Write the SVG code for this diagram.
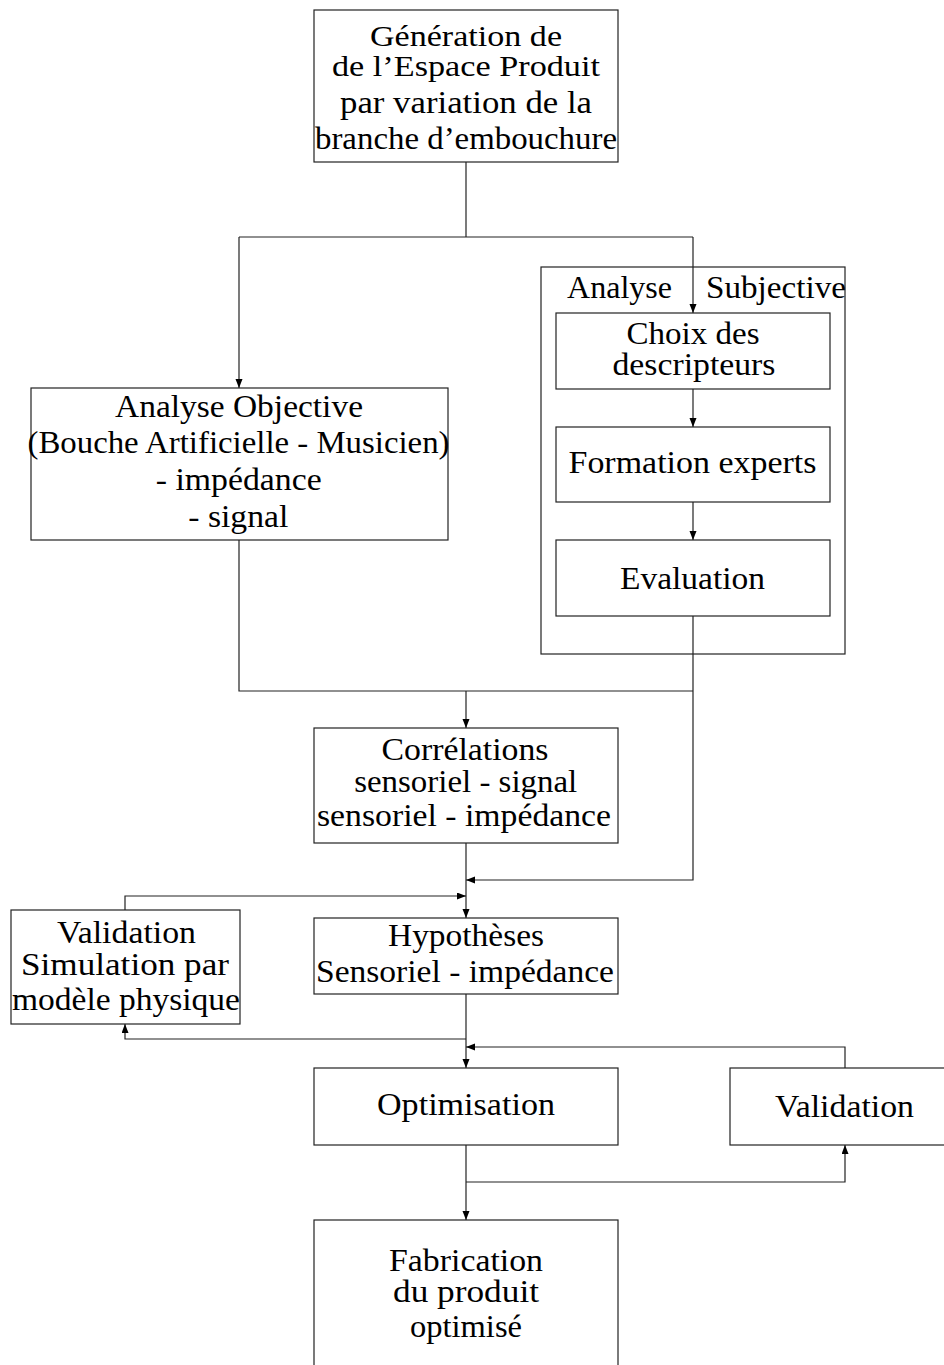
<svg xmlns="http://www.w3.org/2000/svg" width="944" height="1365" viewBox="0 0 944 1365">
<style>
.box{fill:#fff;stroke:#222;stroke-width:1.2}
.frame{fill:none;stroke:#222;stroke-width:1.2}
.t{font-family:'Liberation Serif','Times New Roman',Times,serif;font-size:30.5px;fill:#000;text-anchor:middle}
.tg{font-family:'Liberation Serif','Times New Roman',Times,serif;font-size:29px;fill:#000;text-anchor:middle}
.ts{font-family:'Liberation Serif','Times New Roman',Times,serif;font-size:30.5px;fill:#000;text-anchor:start}
.c{fill:none;stroke:#222;stroke-width:1.2}
</style>
<defs>
<marker id="ah" markerUnits="userSpaceOnUse" markerWidth="10" markerHeight="8" refX="9" refY="3.5" orient="auto">
<path d="M0,0 L9,3.5 L0,7 z" fill="#000"/>
</marker>
</defs>
<rect width="944" height="1365" fill="#fff"/>

<g id="connectors">
<path class="c" d="M466,162 V237"/>
<path class="c" d="M239,237 H693"/>
<path class="c" d="M239,237 V388" marker-end="url(#ah)"/>
<path class="c" d="M693,237 V313" marker-end="url(#ah)"/>
<path class="c" d="M693,389 V427" marker-end="url(#ah)"/>
<path class="c" d="M693,502 V540" marker-end="url(#ah)"/>
<path class="c" d="M239,540 V691 H693"/>
<path class="c" d="M466,691 V728" marker-end="url(#ah)"/>
<path class="c" d="M693,616 V880 H466" marker-end="url(#ah)"/>
<path class="c" d="M466,843 V918" marker-end="url(#ah)"/>
<path class="c" d="M125,910 V896 H466" marker-end="url(#ah)"/>
<path class="c" d="M466,994 V1068" marker-end="url(#ah)"/>
<path class="c" d="M466,1039 H125 V1024" marker-end="url(#ah)"/>
<path class="c" d="M845,1068 V1047 H466" marker-end="url(#ah)"/>
<path class="c" d="M466,1145 V1220" marker-end="url(#ah)"/>
<path class="c" d="M466,1182 H845 V1145" marker-end="url(#ah)"/>
</g>

<g id="generation">
<rect class="box" x="314" y="10" width="304" height="152"/>
<text class="tg" x="466" y="46" textLength="192" lengthAdjust="spacingAndGlyphs">Génération de</text>
<text class="tg" x="466" y="76" textLength="268" lengthAdjust="spacingAndGlyphs">de l’Espace Produit</text>
<text class="t" x="466" y="113" textLength="252" lengthAdjust="spacingAndGlyphs">par variation de la</text>
<text class="t" x="466" y="149" textLength="302" lengthAdjust="spacingAndGlyphs">branche d’embouchure</text>
</g>

<g id="analyse-subjective">
<rect class="frame" x="541" y="267" width="304" height="387"/>
<text class="ts" x="567" y="298" textLength="105" lengthAdjust="spacingAndGlyphs">Analyse</text>
<text class="ts" x="706" y="298" textLength="140" lengthAdjust="spacingAndGlyphs">Subjective</text>
</g>

<g id="choix">
<rect class="box" x="556" y="313" width="274" height="76"/>
<text class="t" x="693" y="344" textLength="133" lengthAdjust="spacingAndGlyphs">Choix des</text>
<text class="t" x="694" y="375" textLength="163" lengthAdjust="spacingAndGlyphs">descripteurs</text>
</g>

<g id="formation">
<rect class="box" x="556" y="427" width="274" height="75"/>
<text class="t" x="692.5" y="473" textLength="248" lengthAdjust="spacingAndGlyphs">Formation experts</text>
</g>

<g id="evaluation">
<rect class="box" x="556" y="540" width="274" height="76"/>
<text class="t" x="692.5" y="589" textLength="145" lengthAdjust="spacingAndGlyphs">Evaluation</text>
</g>

<g id="analyse-objective">
<rect class="box" x="31" y="388" width="417" height="152"/>
<text class="t" x="239" y="417" textLength="248" lengthAdjust="spacingAndGlyphs">Analyse Objective</text>
<text class="t" x="238.5" y="453" textLength="422" lengthAdjust="spacingAndGlyphs">(Bouche Artificielle - Musicien)</text>
<text class="t" x="238.7" y="490" textLength="166" lengthAdjust="spacingAndGlyphs">- impédance</text>
<text class="t" x="238.3" y="527" textLength="100" lengthAdjust="spacingAndGlyphs">- signal</text>
</g>

<g id="correlations">
<rect class="box" x="314" y="728" width="304" height="115"/>
<text class="t" x="465" y="760" textLength="167" lengthAdjust="spacingAndGlyphs">Corrélations</text>
<text class="t" x="465.7" y="792" textLength="223" lengthAdjust="spacingAndGlyphs">sensoriel - signal</text>
<text class="t" x="464" y="826" textLength="294" lengthAdjust="spacingAndGlyphs">sensoriel - impédance</text>
</g>

<g id="validation-simulation">
<rect class="box" x="11" y="910" width="229" height="114"/>
<text class="t" x="126.5" y="943" textLength="139" lengthAdjust="spacingAndGlyphs">Validation</text>
<text class="t" x="125" y="975" textLength="208" lengthAdjust="spacingAndGlyphs">Simulation par</text>
<text class="t" x="126" y="1010" textLength="228" lengthAdjust="spacingAndGlyphs">modèle physique</text>
</g>

<g id="hypotheses">
<rect class="box" x="314" y="918" width="304" height="76"/>
<text class="t" x="466" y="946" textLength="156" lengthAdjust="spacingAndGlyphs">Hypothèses</text>
<text class="t" x="465" y="982" textLength="298" lengthAdjust="spacingAndGlyphs">Sensoriel - impédance</text>
</g>

<g id="optimisation">
<rect class="box" x="314" y="1068" width="304" height="77"/>
<text class="t" x="466" y="1115" textLength="178" lengthAdjust="spacingAndGlyphs">Optimisation</text>
</g>

<g id="validation">
<rect class="box" x="730" y="1068" width="230" height="77"/>
<text class="t" x="844.5" y="1117" textLength="139" lengthAdjust="spacingAndGlyphs">Validation</text>
</g>

<g id="fabrication">
<rect class="box" x="314" y="1220" width="304" height="152"/>
<text class="t" x="466" y="1271" textLength="154" lengthAdjust="spacingAndGlyphs">Fabrication</text>
<text class="t" x="466" y="1302" textLength="146" lengthAdjust="spacingAndGlyphs">du produit</text>
<text class="t" x="466" y="1337" textLength="112" lengthAdjust="spacingAndGlyphs">optimisé</text>
</g>
</svg>
